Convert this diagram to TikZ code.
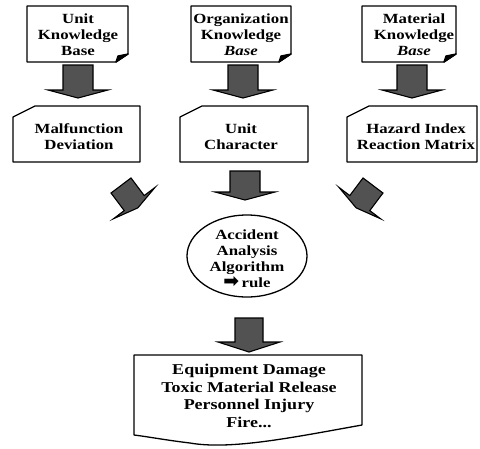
\documentclass[tikz,border=0pt]{standalone}
\usepackage{fontspec}
\setmainfont{Liberation Serif}[FakeStretch=1.2]
\newfontfamily\symfont{DejaVu Sans}
\newcommand{\blockarrowpath}[4]{%
  \path[arrowfill] (-#1,0) -- (#1,0) -- (#1,#2) -- (#3,#2) -- (0,#2+#4) -- (-#3,#2) -- (-#1,#2) -- cycle;}
\begin{document}
\begin{tikzpicture}[x=1pt,y=-1pt,
  boxline/.style={draw=black,line width=1.3pt,line join=round},
  arrowfill/.style={draw=black,line width=1.1pt,fill=black!68,line join=miter},
  lbl/.style={align=center,font=\bfseries\fontsize{14}{16}\selectfont,inner sep=0pt},
  lblbig/.style={align=center,font=\bfseries\fontsize{15}{17.5}\selectfont,inner sep=0pt}]
\useasboundingbox (0,0) rectangle (480,448);

% top document boxes
\path[boxline,fill=white] (27,6) -- (128,6) -- (128,54) -- (116,62) -- (27,62) -- cycle;
\path[boxline,fill=black] (116,62) -- (118,56) -- (128,54) -- cycle;
\path[boxline,fill=white] (191,6) -- (291,6) -- (291,54) -- (279,62) -- (191,62) -- cycle;
\path[boxline,fill=black] (279,62) -- (281,56) -- (291,54) -- cycle;
\path[boxline,fill=white] (362,6) -- (456,6) -- (456,54) -- (444,62) -- (362,62) -- cycle;
\path[boxline,fill=black] (444,62) -- (446,56) -- (456,54) -- cycle;
\node[lbl] (ukb) at (78,35) {Unit\\Knowledge\\Base};
\node[lbl] (okb) at (241,35) {Organization\\Knowledge\\\textit{Base}};
\node[lbl] (mkb) at (414,35) {Material\\Knowledge\\\textit{Base}};

% top arrows
\begin{scope}[shift={(78,65)}]\blockarrowpath{15}{25}{30}{8}\end{scope}
\begin{scope}[shift={(243,65)}]\blockarrowpath{15}{25}{30}{8}\end{scope}
\begin{scope}[shift={(412,65)}]\blockarrowpath{15}{25}{30}{8}\end{scope}

% cards
\path[boxline] (13,117) -- (35,106) -- (140,106) -- (140,162) -- (13,162) -- cycle;
\path[boxline] (180,117) -- (202,106) -- (308,106) -- (308,162) -- (180,162) -- cycle;
\path[boxline] (347,117) -- (369,106) -- (477,106) -- (477,162) -- (347,162) -- cycle;
\node[lbl] (mal) at (79,137) {Malfunction\\Deviation};
\node[lbl] (uch) at (241,137) {Unit\\Character};
\node[lbl] (haz) at (416,137) {Hazard Index\\Reaction Matrix};

% middle arrows
\begin{scope}[shift={(121,185.5)},rotate=37]\blockarrowpath{12.5}{22}{26}{6}\end{scope}
\begin{scope}[shift={(373,185.5)},rotate=-37]\blockarrowpath{12.5}{22}{26}{6}\end{scope}
\begin{scope}[shift={(245,171)}]\blockarrowpath{15}{21}{30}{8}\end{scope}

% ellipse
\draw[boxline] (247,256) ellipse [x radius=60, y radius=41];
\node[lbl] (alg) at (247,259) {Accident\\Analysis\\Algorithm\\\smash{\symfont\scalebox{1.35}{\char"27A1}}\,rule};

% bottom arrow
\begin{scope}[shift={(249,318)}]\blockarrowpath{14}{24}{31}{10}\end{scope}

% bottom document
\path[boxline] (134,355) -- (362,355) -- (362,425) .. controls (290,438) and (230,450) .. (190,443) .. controls (165,440) and (150,437) .. (134,435) -- cycle;
\node[lblbig] (res) at (249,396) {Equipment Damage\\Toxic Material Release\\Personnel Injury\\Fire...};
\end{tikzpicture}
\end{document}
